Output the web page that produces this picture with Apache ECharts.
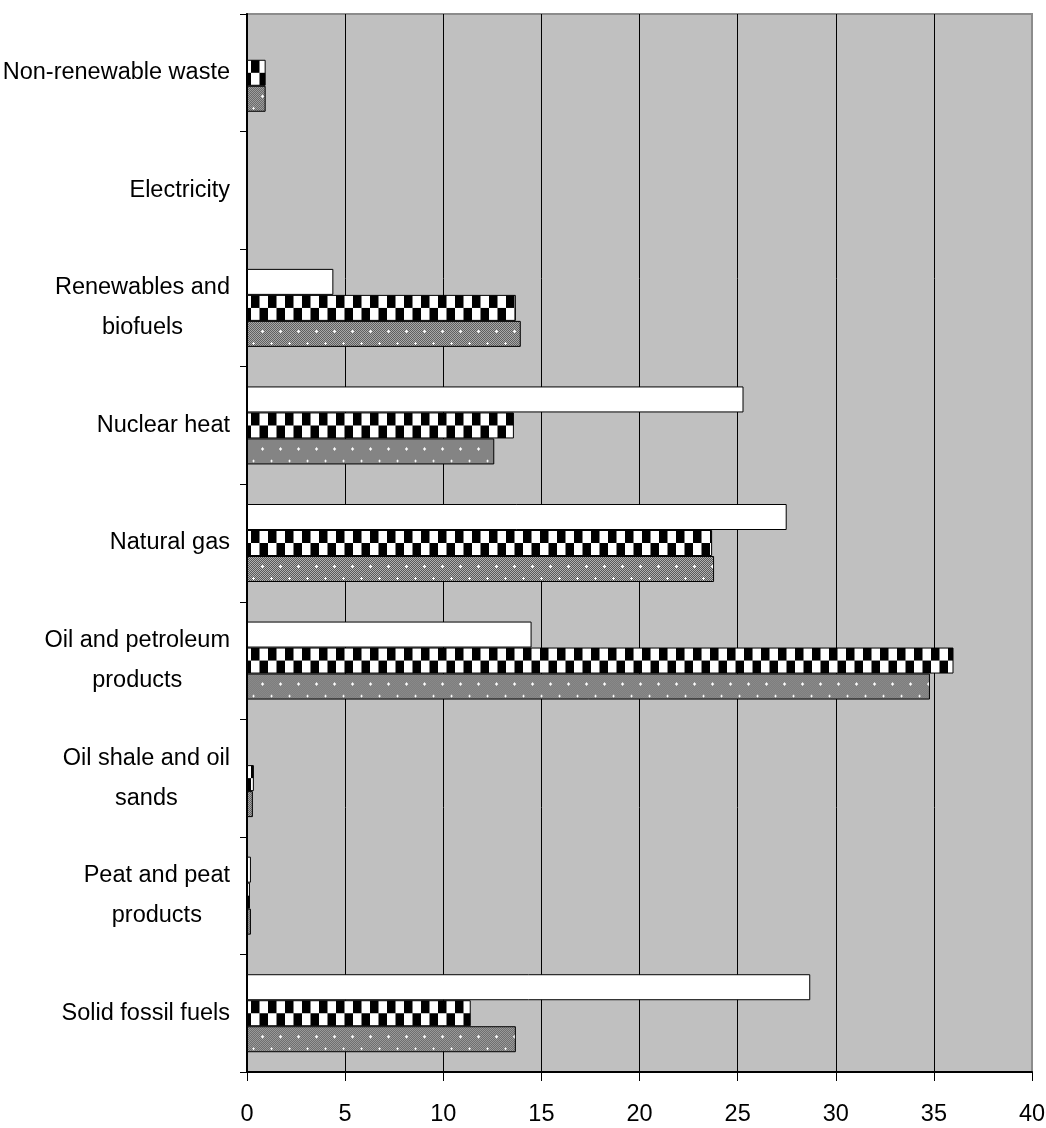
<!DOCTYPE html>
<html><head><meta charset="utf-8">
<script src="https://cdn.jsdelivr.net/npm/echarts@6/dist/echarts.min.js"></script>
<style>html,body{margin:0;padding:0;background:#fff}#c{width:1046px;height:1128px}</style>
</head><body><div id="c"></div>
<script>
// Categories listed bottom-to-top (category axis starts at the bottom)
const categories = [
  'Solid fossil fuels',
  'Peat and peat\nproducts',
  'Oil shale and oil\nsands',
  'Oil and petroleum\nproducts',
  'Natural gas',
  'Nuclear heat',
  'Renewables and\nbiofuels',
  'Electricity',
  'Non-renewable waste'
];
const seriesWhite   = [28.7, 0.2,  0,    14.5, 27.5, 25.3, 4.4,  0, 0];
const seriesChecked = [11.4, 0.15, 0.35, 36.0, 23.7, 13.6, 13.7, 0, 0.95];
const seriesDotted  = [13.7, 0.2,  0.3,  34.8, 23.8, 12.6, 13.95, 0, 0.95];
const xAxisMin = 0, xAxisMax = 40, xAxisStep = 5;

const FONT = "'Liberation Sans Narrow', 'Liberation Sans', Arial, sans-serif";

function checkerCanvas() {
  const c = document.createElement('canvas'); c.width = 17; c.height = 26;
  const g = c.getContext('2d');
  g.fillStyle = '#fff'; g.fillRect(0, 0, 17, 26);
  g.fillStyle = '#000';
  g.fillRect(0, 0, 8.5, 13); g.fillRect(8.5, 13, 8.5, 13);
  return c;
}
function dottedCanvas() {
  const c = document.createElement('canvas'); c.width = 18; c.height = 24;
  const g = c.getContext('2d');
  for (let y = 0; y < 24; y++) for (let x = 0; x < 18; x++) {
    g.fillStyle = ((x + y) % 2) ? '#b0b0b0' : '#585858';
    g.fillRect(x, y, 1, 1);
  }
  g.fillStyle = '#fff';
  [[15, 10], [6, 22]].forEach(([x, y]) => {
    g.fillRect(x - 1, y, 3, 1); g.fillRect(x, y - 1, 1, 3);
  });
  return c;
}
const chkImg = checkerCanvas(), dotImg = dottedCanvas();

const chart = echarts.init(document.getElementById('c'), null, { renderer: 'canvas' });

function buildOption(tops) {
  const mk = (vals, kind, idx) => vals.map((v, i) => {
    if (kind === 'white') return v;
    const t = tops ? tops[i][idx] : 0;
    const img = kind === 'chk' ? chkImg : dotImg;
    return { value: v, itemStyle: { color: { image: img, repeat: 'repeat', x: kind === 'chk' ? 251 : 247, y: t } } };
  });
  const base = { type: 'bar', barWidth: 26, barGap: '0%', itemStyle: { borderColor: '#000', borderWidth: 1 }, silent: true, animation: false };
  return {
    animation: false,
    grid: { left: 247, right: 14, top: 14, bottom: 56, containLabel: false, outerBoundsMode: 'none',
            show: true, backgroundColor: '#c0c0c0', borderColor: '#8c8c8c', borderWidth: 2 },
    xAxis: {
      type: 'value', min: xAxisMin, max: xAxisMax, interval: xAxisStep,
      axisLine: { show: true, lineStyle: { color: '#000', width: 2 } },
      axisTick: { show: true, length: 9, lineStyle: { color: '#000', width: 1 } },
      axisLabel: { color: '#000', fontFamily: FONT, fontSize: 23.5, margin: 31 },
      splitLine: { show: true, showMinLine: false, showMaxLine: false, lineStyle: { color: '#000', width: 1 } }
    },
    yAxis: {
      type: 'category', data: categories,
      axisLine: { show: true, lineStyle: { color: '#000', width: 2 } },
      axisTick: { show: true, length: 7, lineStyle: { color: '#000', width: 1 } },
      axisLabel: {
        color: '#000', fontFamily: FONT, fontSize: 23.5, margin: 17, align: 'right', lineHeight: 40,
        formatter: (s) => s.split('\n').map(l => '{c|' + l + '}').join('\n'),
        rich: { c: { align: 'center', fontFamily: FONT, fontSize: 23.5, lineHeight: 40, color: '#000' } }
      },
      splitLine: { show: false }
    },
    series: [
      Object.assign({}, base, { name: 'A', data: mk(seriesWhite, 'white', 0), itemStyle: { color: '#fff', borderColor: '#000', borderWidth: 1 } }),
      Object.assign({}, base, { name: 'B', data: mk(seriesChecked, 'chk', 1) }),
      Object.assign({}, base, { name: 'C', data: mk(seriesDotted, 'dot', 2) })
    ]
  };
}

chart.setOption(buildOption(null));
// Align pattern tiles to each bar's top edge using the axis scale
const tops = categories.map((_, i) => {
  const c = chart.convertToPixel({ yAxisIndex: 0 }, i);
  return [c - 39, c - 13, c + 13];
});
chart.setOption(buildOption(tops));
</script>
</body></html>
